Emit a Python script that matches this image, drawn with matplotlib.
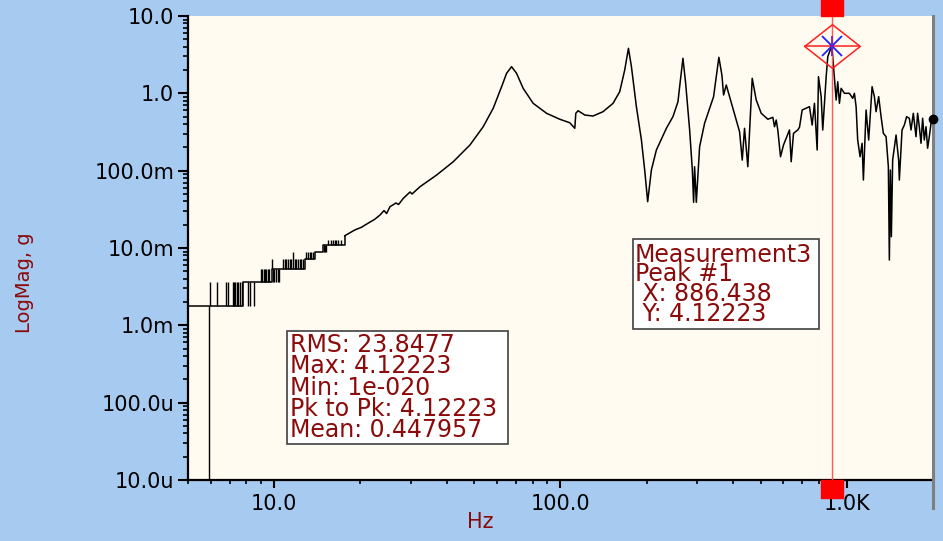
import matplotlib
matplotlib.use('Agg')
import matplotlib.pyplot as plt
from matplotlib.path import Path
from matplotlib.patches import Rectangle
from matplotlib.ticker import LogLocator, NullFormatter

plt.rcParams['font.family'] = 'DejaVu Sans'

# low band, quantised in steps of ~1.8 mg (Hz, g)
step_hz = [5.0, 7.8, 9.79, 12.79, 13.86, 14.82, 17.64]
step_g = [0.0018, 0.0036, 0.0054, 0.0072, 0.0090, 0.0108, 0.0144]

# single-bin flicker between two quantisation levels
spike_hz = [5.93, 5.97, 6.29, 6.78, 6.88, 7.16, 7.23, 7.31, 7.41, 7.49, 7.59, 7.69,
            8.07, 8.23, 8.50,
            8.99, 9.08, 9.18, 9.28, 9.38, 9.48, 9.61, 9.79,
            9.92, 10.0, 10.13, 10.27, 10.38,
            10.75, 10.90, 11.04, 11.19, 11.34, 11.49, 11.65, 11.81, 11.96, 12.13, 12.29, 12.45, 12.62,
            12.96, 13.14, 13.31, 13.49, 13.68,
            14.90, 15.02, 15.12,
            15.43, 15.85, 16.0, 16.28, 16.5, 16.72, 17.17]
spike_lo = [1e-20] + [0.0018] * 11 + [0.0018] * 3 + [0.0036] * 7 + [0.0054] \
    + [0.0036] * 5 + [0.0054] * 13 + [0.0072] * 5 + [0.0090] * 3 + [0.0108] * 7
spike_hi = [0.0018] + [0.0036] * 11 + [0.0036] * 3 + [0.0054] * 7 + [0.0072] \
    + [0.0054] * 5 + [0.0072] * 6 + [0.0090] + [0.0072] * 6 + [0.0090] * 5 + [0.0108] * 3 + [0.0126] * 7

# measured response above ~17 Hz
resp_hz = [17.64, 19.12, 20.16, 21.27, 22.45, 23.42, 24.19, 24.69, 25.38, 26.64, 27.19, 28.25,
           29.82, 30.29, 32.30, 36.94, 42.21, 48.27, 53.70, 58.21, 62.27, 64.82, 67.47, 70.23,
           74.06, 80.25, 89.39, 99.45, 107.7, 112.2, 113.1, 115.2, 121.6, 129.9, 140.8, 152.6,
           161.0, 167.6, 172.7, 176.9, 184.1, 191.7, 196.8, 201.6, 207.7, 216.2, 234.3, 247.0,
           257.2, 260.7, 267.7, 273.6, 282.5, 288.7, 291.7, 294.0, 298.1, 306.1, 318.6, 336.3,
           342.5, 350.0, 357.4, 366.2, 371.2, 379.3, 399.9, 422.1, 431.3, 439.3, 451.1, 467.3,
           482.6, 502.4, 529.9, 551.6, 559.2, 566.8, 574.1, 586.7, 601.0, 630.6, 639.3, 651.3,
           674.2, 683.4, 698.4, 740.6, 756.8, 770.9, 787.9, 796.2, 813.6, 824.1, 847.0, 858.0,
           886.438, 893.0, 917.8, 929.7, 942.4, 955.3, 981.0, 1021, 1048.6, 1063, 1077.6, 1091.4,
           1112.7, 1130.8, 1142.6, 1167.6, 1192.3, 1225.4, 1248.2, 1265.3, 1292.1, 1317.3, 1341.8,
           1371.2, 1396.7, 1408.0, 1419.4, 1430.9, 1445.8, 1485.9, 1517.3, 1525.7, 1559.2, 1588.2,
           1617.7, 1653.4, 1676.0, 1707.2, 1744.6, 1767.2, 1791.4, 1816.3, 1839.9, 1865.1, 1890.7,
           1915.2, 1941.4, 1968.4, 2000]
resp_g = [0.0144, 0.0171, 0.0185, 0.0209, 0.0235, 0.0267, 0.0305, 0.0279, 0.0342, 0.0382, 0.0365, 0.0439,
          0.0530, 0.0499, 0.0620, 0.0879, 0.1305, 0.2147, 0.370, 0.641, 1.218, 1.816, 2.210, 1.816,
          1.161, 0.743, 0.552, 0.462, 0.417, 0.353, 0.552, 0.596, 0.524, 0.509, 0.579, 0.743,
          1.050, 2.003, 3.822, 2.210, 0.672, 0.249, 0.102, 0.0397, 0.102, 0.185, 0.353, 0.499,
          0.779, 1.218, 2.838, 1.348, 0.336, 0.102, 0.0390, 0.1125, 0.0390, 0.204, 0.410, 0.743,
          0.905, 1.641, 2.923, 1.726, 0.952, 1.281, 0.641, 0.319, 0.137, 0.353, 0.1125, 1.564,
          0.820, 0.552, 0.462, 0.490, 0.370, 0.452, 0.336, 0.1515, 0.2147, 0.336, 0.1305, 0.304,
          0.336, 0.364, 0.609, 0.672, 0.389, 0.743, 0.185, 1.641, 0.905, 0.336, 1.641, 2.976,
          4.12223, 2.976, 0.820, 1.414, 0.743, 1.161, 1.001, 1.001, 0.862, 1.001, 0.672, 0.249,
          0.1515, 0.226, 0.0757, 0.609, 0.249, 1.218, 0.905, 0.579, 0.905, 0.499, 0.304,
          0.275, 0.1125, 0.00699, 0.102, 0.0140, 0.137, 0.289, 0.137, 0.0757, 0.336, 0.389,
          0.499, 0.476, 0.336, 0.552, 0.275, 0.552, 0.370, 0.226, 0.476, 0.249, 0.370,
          0.195, 0.275, 0.410, 0.466]

peak_hz = 886.438
peak_g = 4.12223
stats = [('RMS', '23.8477'), ('Max', '4.12223'), ('Min', '1e-020'),
         ('Pk to Pk', '4.12223'), ('Mean', '0.447957')]

x_ticks = [10, 100, 1000]
x_ticklabels = ['10.0', '100.0', '1.0K']
y_ticks = [1e-5, 1e-4, 1e-3, 1e-2, 1e-1, 1, 10]
y_ticklabels = ['10.0u', '100.0u', '1.0m', '10.0m', '100.0m', '1.0', '10.0']

bg = '#A6CAF0'
face = '#FFFBF0'
dark_red = '#8B0A0A'

fig = plt.figure(figsize=(9.43, 5.41), dpi=100, facecolor=bg)
ax = fig.add_axes([188 / 943, 61 / 541, 745 / 943, 464 / 541], facecolor=face)
ax.set_xscale('log')
ax.set_yscale('log')
ax.set_xlim(5.0, 2000)
ax.set_ylim(1e-5, 10)

ax.plot(step_hz, step_g, drawstyle='steps-post', color='k', lw=1.1)
ax.vlines(spike_hz, spike_lo, spike_hi, colors='k', lw=1.0)
ax.plot(resp_hz, resp_g, color='k', lw=1.1)

# cursor line, handles and peak marker
ax.axvline(peak_hz, ymin=-0.0366, ymax=1.0345, color='#FF5A5A', lw=1.0, clip_on=False, zorder=4)
handle = Path([(-1, -0.8), (1, -0.8), (1, 0.8), (-1, 0.8), (-1, -0.8)], closed=True)
trans = ax.get_xaxis_transform()
ax.plot([peak_hz, peak_hz], [1.0189, -0.0189], transform=trans, ls='none', marker=handle,
        ms=15.8, mfc='#FF0000', mec='#FF0000', clip_on=False, zorder=5)
diamond = Path([(-1, 0), (0, 0.786), (1, 0), (0, -0.786), (-1, 0)], closed=True)
ax.plot(peak_hz, peak_g, marker=diamond, ms=40, mfc='none', mec='#FF2020', mew=1.1, zorder=5)
ax.plot(peak_hz, peak_g, marker='_', ms=40, mec='#FF2020', mew=1.1, zorder=5)
ax.plot(peak_hz, peak_g, marker='x', ms=15, mec='#2020FF', mew=1.3, zorder=6)
ax.plot(peak_hz, peak_g, marker='|', ms=15, mec='#8020A0', mew=1.3, zorder=6)

# end-of-trace cursor dot and right border
ax.plot(resp_hz[-1], resp_g[-1], 'o', color='k', ms=6, clip_on=False, zorder=6)
ax.axvline(2000, ymin=-0.06, ymax=1.0, color='#7F7F7F', lw=2.2, clip_on=False, zorder=3)

for side in ['top', 'right']:
    ax.spines[side].set_visible(False)
for side in ['left', 'bottom']:
    ax.spines[side].set_linewidth(1.6)

ax.set_xticks(x_ticks, x_ticklabels)
ax.set_yticks(y_ticks, y_ticklabels)
ax.xaxis.set_minor_locator(LogLocator(base=10, subs=range(2, 10), numticks=20))
ax.yaxis.set_minor_locator(LogLocator(base=10, subs=range(2, 10), numticks=20))
ax.xaxis.set_minor_formatter(NullFormatter())
ax.yaxis.set_minor_formatter(NullFormatter())
ax.tick_params(axis='y', which='major', length=7, width=1.5, labelsize=15, pad=3)
ax.tick_params(axis='y', which='minor', length=3.5, width=1.2)
ax.tick_params(axis='x', which='major', length=6, width=1.5, labelsize=15, pad=4)
ax.tick_params(axis='x', which='minor', length=3, width=1.2)

fig.text(25 / 943, 1 - 283 / 541, 'LogMag, g', rotation=90, ha='center', va='center',
         color=dark_red, fontsize=14)
fig.text(480 / 943, 1 - 522 / 541, 'Hz', ha='center', va='center', color=dark_red, fontsize=15)

# annotation boxes (axes fraction)
def text_box(x0, y0, x1, y1, lines, tx, ty, ls):
    ax.add_patch(Rectangle((x0, y0), x1 - x0, y1 - y0, transform=ax.transAxes,
                           facecolor='white', edgecolor='#404040', lw=1.2, zorder=7))
    ax.text(tx, ty, '\n'.join(lines), transform=ax.transAxes, ha='left', va='top',
            fontsize=17, color=dark_red, linespacing=ls, zorder=8)

stats_lines = [f'{k}: {v}' for k, v in stats]
text_box(0.1333, 0.0776, 0.4299, 0.3218, stats_lines, 0.1369, 0.3166, 0.86)
peak_lines = ['Measurement3', 'Peak #1', f' X: {peak_hz:.3f}', f' Y: {peak_g:.5f}']
text_box(0.5977, 0.3254, 0.8474, 0.5188, peak_lines, 0.6000, 0.5116, 0.78)

plt.savefig('out.png', dpi=100, facecolor=bg)
